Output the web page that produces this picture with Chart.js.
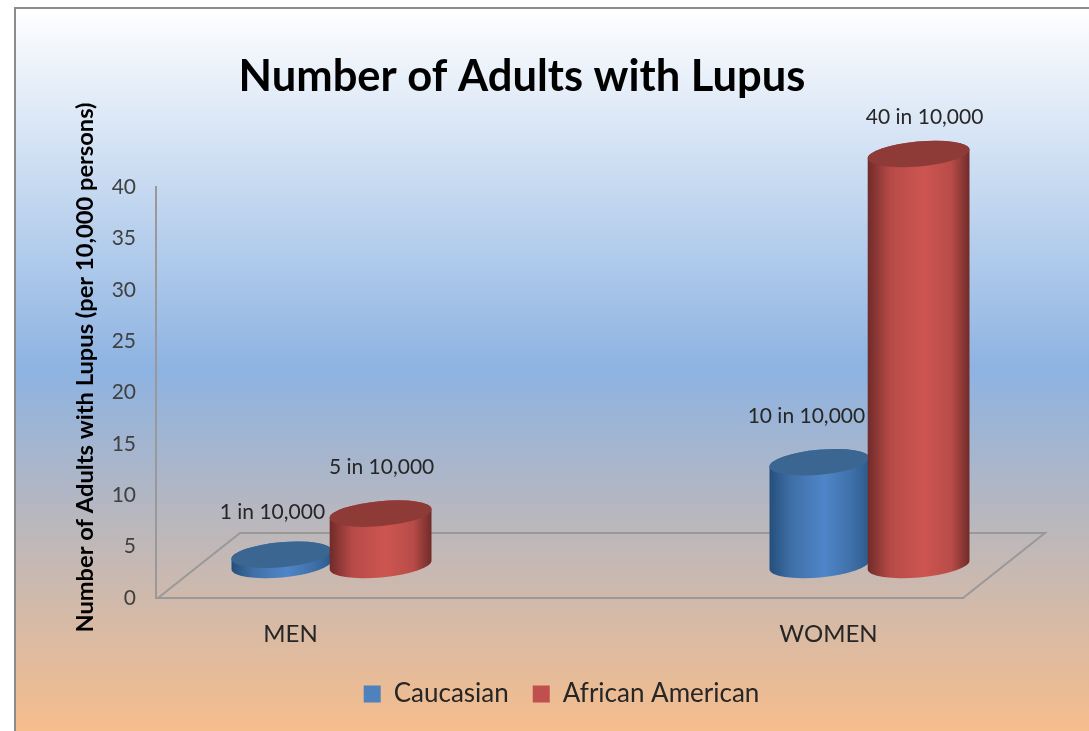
<!DOCTYPE html>
<html>
<head>
<meta charset="utf-8">
<title>Number of Adults with Lupus</title>
<script src="https://cdn.jsdelivr.net/npm/chart.js@4"></script>
<style>
html, body { margin: 0; padding: 0; background: #fff; }
canvas { display: block; filter: blur(0.5px); }
</style>
</head>
<body>
<canvas id="lupusChart" width="1089" height="731"></canvas>
<script>
// the empty middle category is what spaces the two groups apart
var categories = ['MEN', '', 'WOMEN'];
var caucasian = [1, null, 10];
var africanAmerican = [5, null, 40];
var caucasianLabels = ['1 in 10,000', '', '10 in 10,000'];
var africanAmericanLabels = ['5 in 10,000', '', '40 in 10,000'];
var yTickLabels = ['0', '5', '10', '15', '20', '25', '30', '35', '40'];
var chartTitle = 'Number of Adults with Lupus';
var yAxisTitle = 'Number of Adults with Lupus (per 10,000 persons)';

var FONT = 'Lato, Carlito, "Open Sans", sans-serif';
var DEPTH_X = 82, DEPTH_Y = 65; // floor depth of the fake 3D box
var BAR_SHIFT_X = 40, BAR_SHIFT_Y = 33; // cylinders stand mid floor
var TILT = -0.09, CAP_RY = 12.5;

// nudges of the value labels from the cylinder top, per dataset then category
var labelNudge = [
    [[-8, -42], null, [-12, -46]],
    [[1, -46], null, [6, -37]]
];

var cylinderStyles = [
    { stops: ['#244f7c', '#3f6fa6', '#4f86c9', '#3f70a8', '#2b5a8c'], cap: '#3c6692', dx: 1, drx: 0 },
    { stops: ['#6f2b29', '#b64a47', '#cd5551', '#b84c48', '#6f2b29'], cap: '#8e3a37', dx: 0, drx: 1 }
];

function drawCylinder(ctx, cx, topY, baseY, rx, style) {
    var grad = ctx.createLinearGradient(cx - rx, 0, cx + rx, 0);
    grad.addColorStop(0, style.stops[0]);
    grad.addColorStop(0.22, style.stops[1]);
    grad.addColorStop(0.55, style.stops[2]);
    grad.addColorStop(0.82, style.stops[3]);
    grad.addColorStop(1, style.stops[4]);

    ctx.beginPath();
    ctx.ellipse(cx, baseY, rx, CAP_RY, TILT, 0, Math.PI, false);
    ctx.ellipse(cx, topY, rx, CAP_RY, TILT, Math.PI, Math.PI * 2, false);
    ctx.closePath();
    ctx.fillStyle = grad;
    ctx.fill();

    ctx.beginPath();
    ctx.ellipse(cx, topY, rx, CAP_RY, TILT, 0, Math.PI * 2);
    ctx.fillStyle = style.cap;
    ctx.fill();
}

var lupusPlugin = {
    id: 'lupus3d',
    beforeDraw: function (chart) {
        var ctx = chart.ctx;
        var bg = ctx.createLinearGradient(0, 7, 0, 731);
        bg.addColorStop(0, '#ffffff');
        bg.addColorStop(0.5, '#8db3e2');
        bg.addColorStop(1, '#f6bd8c');
        ctx.save();
        ctx.fillStyle = bg;
        ctx.fillRect(14, 7, 1075, 724);
        ctx.strokeStyle = '#8c8c8c';
        ctx.lineWidth = 2;
        ctx.beginPath();
        ctx.moveTo(15, 731);
        ctx.lineTo(15, 8);
        ctx.lineTo(1089, 8);
        ctx.stroke();
        ctx.restore();
    },
    afterLayout: function (chart) {
        // title and legend are not centred on the canvas in the reference
        chart.titleBlock.left = 0;
        chart.titleBlock.right = 1044;
        chart.legend.left = chart.legend.left + 80;
        chart.legend.right = chart.legend.right + 80;
    },
    beforeDatasetsDraw: function (chart) {
        var ctx = chart.ctx, area = chart.chartArea;
        ctx.save();
        ctx.strokeStyle = '#999999';
        ctx.lineWidth = 2;
        ctx.beginPath();
        ctx.moveTo(area.left + 2, area.bottom);
        ctx.lineTo(area.left + 2 + DEPTH_X, area.bottom - DEPTH_Y);
        ctx.lineTo(area.right + DEPTH_X, area.bottom - DEPTH_Y);
        ctx.lineTo(area.right, area.bottom);
        ctx.stroke();

        chart.data.datasets.forEach(function (ds, d) {
            var style = cylinderStyles[d];
            chart.getDatasetMeta(d).data.forEach(function (bar, i) {
                if (ds.data[i] === null) return;
                drawCylinder(ctx, bar.x + BAR_SHIFT_X + style.dx, bar.y - BAR_SHIFT_Y, bar.base - BAR_SHIFT_Y,
                    bar.width / 2 + style.drx, style);
            });
        });

        ctx.font = '21px ' + FONT;
        ctx.fillStyle = '#262626';
        ctx.textAlign = 'center';
        ctx.textBaseline = 'middle';
        chart.data.datasets.forEach(function (ds, d) {
            chart.getDatasetMeta(d).data.forEach(function (bar, i) {
                if (ds.data[i] === null) return;
                ctx.fillText(ds.valueLabels[i], bar.x + BAR_SHIFT_X + labelNudge[d][i][0],
                    bar.y - BAR_SHIFT_Y + labelNudge[d][i][1]);
            });
        });

        // y title sits off centre of the axis, so it is placed by hand
        ctx.translate(85, 367.5);
        ctx.rotate(-Math.PI / 2);
        ctx.font = 'bold 23.7px ' + FONT;
        ctx.fillStyle = '#000000';
        ctx.fillText(yAxisTitle, 0, 0);
        ctx.restore();
        return false; // cylinders replace the flat bars
    }
};

var ctx = document.getElementById('lupusChart').getContext('2d');
var lupusChart = new Chart(ctx, {
    type: 'bar',
    plugins: [lupusPlugin],
    data: {
        labels: categories,
        datasets: [{
            label: 'Caucasian',
            data: caucasian,
            valueLabels: caucasianLabels,
            backgroundColor: '#4f81bd'
        }, {
            label: 'African American',
            data: africanAmerican,
            valueLabels: africanAmericanLabels,
            backgroundColor: '#c0504d'
        }]
    },
    options: {
        responsive: false,
        animation: false,
        categoryPercentage: 0.745,
        barPercentage: 1,
        layout: { padding: { left: 0, right: 126, top: 0, bottom: 14 } },
        scales: {
            x: {
                grid: { display: false },
                border: { color: '#999999', width: 2 },
                ticks: {
                    autoSkip: false,
                    maxRotation: 0,
                    padding: 14,
                    color: '#262626',
                    font: { family: FONT, size: 24 }
                },
                afterFit: function (scale) { scale.height = 59; }
            },
            y: {
                min: 0,
                max: 40,
                grid: { display: false },
                border: { color: '#999999', width: 2 },
                afterFit: function (scale) { scale.width = 156; },
                ticks: {
                    stepSize: 5,
                    padding: 12,
                    color: '#404040',
                    font: { family: FONT, size: 21 },
                    callback: function (value, index) { return yTickLabels[index]; }
                }
            }
        },
        plugins: {
            tooltip: { enabled: false },
            title: {
                display: true,
                text: chartTitle,
                color: '#000000',
                font: { family: FONT, size: 43.5, weight: 'bold', lineHeight: 1.2 },
                padding: { top: 51, bottom: 83.8 }
            },
            legend: {
                position: 'bottom',
                labels: {
                    boxWidth: 17,
                    boxHeight: 17,
                    padding: 24,
                    color: '#262626',
                    font: { family: FONT, size: 26 }
                }
            }
        }
    }
});
</script>
</body>
</html>
